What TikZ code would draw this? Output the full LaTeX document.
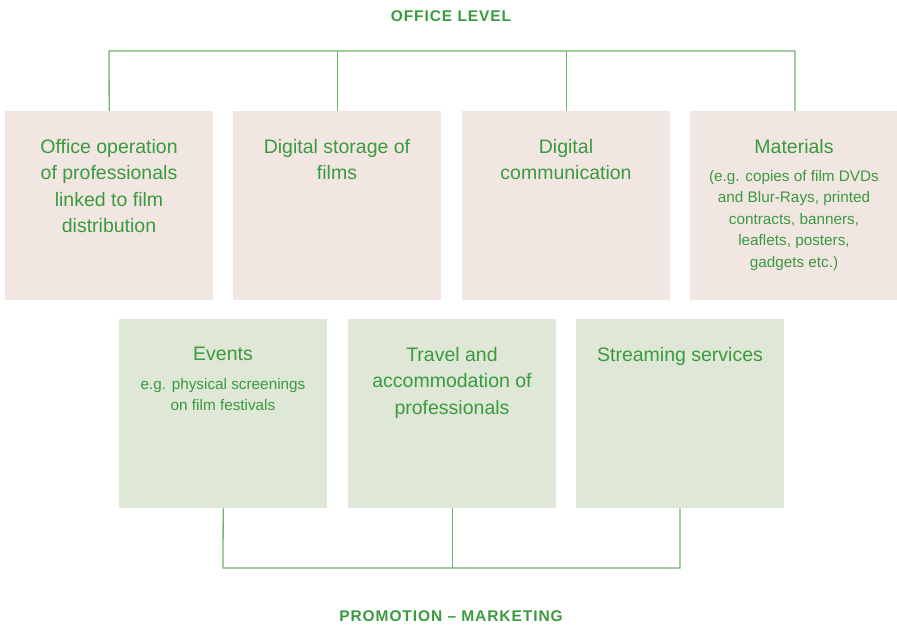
\documentclass[tikz,border=0pt]{standalone}
\usepackage{fontspec}
\setmainfont{Liberation Sans}
\newfontfamily\titlefont[LetterSpace=6]{Liberation Sans}
\definecolor{txtgreen}{HTML}{3A9A3E}
\definecolor{linegreen}{HTML}{6DB46F}
\definecolor{pinkfill}{HTML}{F2E6E2}
\definecolor{greenfill}{HTML}{DFE7D6}
\begin{document}
\begin{tikzpicture}[x=1pt,y=-1pt,
  topbox/.style={fill=pinkfill,draw=none,minimum width=208pt,minimum height=189pt,inner sep=0pt,anchor=north west},
  botbox/.style={fill=greenfill,draw=none,minimum width=208pt,minimum height=189pt,inner sep=0pt,anchor=north west},
  maintxt/.style={anchor=north,inner sep=0pt,align=center,text=txtgreen,font=\fontsize{19.5}{26.5}\selectfont},
  subtxt/.style={anchor=north,inner sep=0pt,align=center,text=txtgreen,font=\fontsize{15.3}{21.5}\selectfont},
  headtxt/.style={text=txtgreen,font=\titlefont\bfseries\fontsize{15.5}{17}\selectfont,inner sep=0pt},
  conn/.style={draw=linegreen,line width=1.3pt,line join=miter}]
\useasboundingbox (0,0) rectangle (897,626);
\node[headtxt] (htop) at (451,16) {OFFICE LEVEL};
\node[headtxt] (hbot) at (451,616) {PROMOTION – MARKETING};
% top boxes
\node[topbox] (b1) at (5,111) {};
\node[topbox] (b2) at (233,111) {};
\node[topbox] (b3) at (462,111) {};
\node[topbox] (b4) at (690,111) {};
% bottom boxes
\node[botbox] (b5) at (119,319) {};
\node[botbox] (b6) at (348,319) {};
\node[botbox] (b7) at (576,319) {};
% texts
\node[maintxt] (t1) at (109,139) {Office operation\\of professionals\\linked to film\\distribution};
\node[maintxt] (t2) at (337,139) {Digital storage of\\films};
\node[maintxt] (t3) at (566,139) {Digital\\communication};
\node[maintxt] (t4) at (794,139) {Materials};
\node[subtxt] (s4) at (794,170) {(e.g. copies of film DVDs\\and Blur-Rays, printed\\contracts, banners,\\leaflets, posters,\\gadgets etc.)};
\node[maintxt] (t5) at (223,347) {Events};
\node[subtxt] (s5) at (223,378) {e.g. physical screenings\\on film festivals};
\node[maintxt] (t6) at (452,347) {Travel and\\accommodation of\\professionals};
\node[maintxt] (t7) at (680,347) {Streaming services};
% connectors top
\coordinate (tl) at (109,51);
\coordinate (tr) at (795,51);
\draw[conn] (b1.north) -- (tl) -- (tr) -- (tr |- b4.north);
\draw[conn] (b2.north |- tl) -- (b2.north);
\draw[conn] (b3.north |- tl) -- (b3.north);
% connectors bottom
\coordinate (bl) at (223,568);
\coordinate (br) at (680,568);
\draw[conn] (b5.south) -- (bl) -- (br) -- (br |- b7.south);
\draw[conn] (b6.south) -- (b6.south |- bl);
\end{tikzpicture}
\end{document}
